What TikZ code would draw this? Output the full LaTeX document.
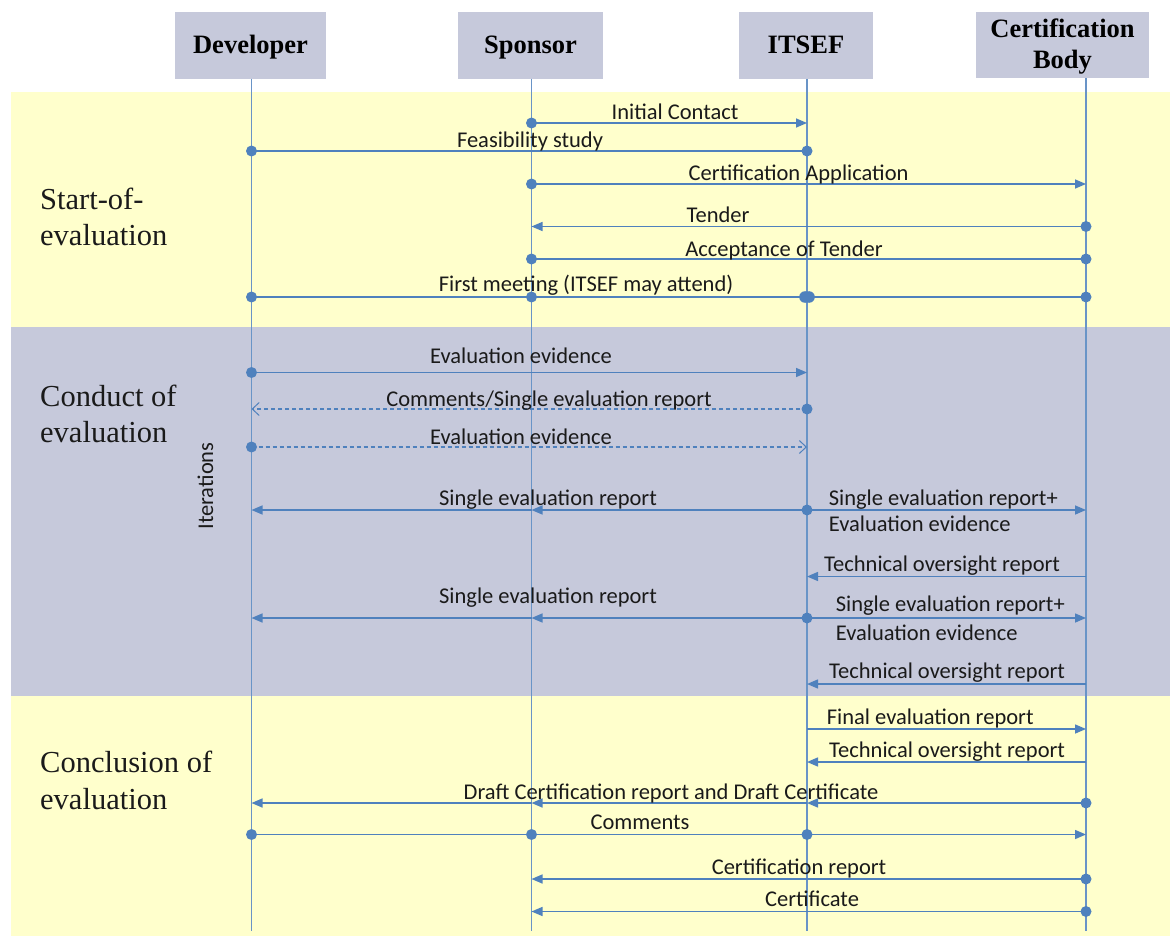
\documentclass[tikz,border=0pt]{standalone}
\usepackage{fontspec}
\setmainfont{Liberation Serif}
\newfontfamily\carlito{Carlito}
\usetikzlibrary{arrows.meta}
\definecolor{bandY}{HTML}{FFFFCC}
\definecolor{bandG}{HTML}{C6C9DB}
\definecolor{lineB}{HTML}{4F81BD}
\definecolor{txt}{HTML}{1A1A1A}
\begin{document}
\begin{tikzpicture}[x=1pt,y=-1pt,
 hdbox/.style={fill=bandG, draw=none, inner sep=0, minimum height=66.5pt},
 hdtext/.style={font=\fontsize{26.5}{31}\selectfont\bfseries, inner sep=0, anchor=base},
 phase/.style={font=\fontsize{30.5}{36}\selectfont, inner sep=0, anchor=base west, text=txt},
 lbl/.style={font=\carlito\fontsize{22.5}{27}\selectfont, inner sep=0, anchor=base, text=txt},
 lblw/.style={lbl, anchor=base west},
 life/.style={draw=lineB!85, line width=1.3pt},
 msg/.style={draw=lineB, line width=1.5pt},
 arr/.style={msg, -{Triangle[length=11pt,width=9pt]}},
 dsh/.style={draw=lineB, line width=1.1pt, dash pattern=on 4pt off 3pt, -{Straight Barb[length=7pt,width=13pt,line width=1pt]}},
 dotc/.style={fill=lineB}
]
\useasboundingbox (0,0) rectangle (1170,936);
% bands
\fill[bandY] (11,92) rectangle (1170,326.5);
\fill[bandG] (11,326.5) rectangle (1170,696);
\fill[bandY] (11,696) rectangle (1170,936);

% headers
\node[hdbox, minimum width=151pt] (dev) at (250.5,45.5) {};
\node[hdbox, minimum width=145pt] (spo) at (530.5,45.5) {};
\node[hdbox, minimum width=134pt] (its) at (806,45.5) {};
\node[hdbox, minimum width=173pt] (cb) at (1062.5,45) {};
\node[hdtext] (devt) at (250.5,54) {Developer};
\node[hdtext] (spot) at (530.5,54) {Sponsor};
\node[hdtext] (itst) at (806,54) {ITSEF};
\node[hdtext] (cbt1) at (1062.5,37.3) {Certification};
\node[hdtext] (cbt2) at (1062.5,68.3) {Body};

% lifelines
\coordinate (Ldev) at (251.5,0);
\coordinate (Lspo) at (531.5,0);
\coordinate (Lits) at (807,0);
\coordinate (Lcb) at (1086,0);
\coordinate (bot) at (0,931);
\draw[life] (dev.south -| Ldev) -- (Ldev |- bot);
\draw[life] (spo.south -| Lspo) -- (Lspo |- bot);
\draw[life] (its.south -| Lits) -- (Lits |- bot);
\draw[life] (cb.south -| Lcb) -- (Lcb |- bot);

% phase labels
\node[phase] (p1a) at (40,209.3) {Start-of-};
\node[phase] (p1b) at (40,245.7) {evaluation};
\node[phase] (p2a) at (40,406) {Conduct of};
\node[phase] (p2b) at (40,442.7) {evaluation};
\node[phase] (p3a) at (40,772.7) {Conclusion of};
\node[phase] (p3b) at (40,809.3) {evaluation};
\node[lbl, rotate=90] (iter) at (213,486) {Iterations};

% rows
\coordinate (r1) at (0,123);
\coordinate (r2) at (0,151);
\coordinate (r3) at (0,184);
\coordinate (r4) at (0,226.5);
\coordinate (r5) at (0,259);
\coordinate (r6) at (0,297);
\coordinate (r7) at (0,372.5);
\coordinate (r8) at (0,409);
\coordinate (r9) at (0,447);
\coordinate (r10) at (0,510);
\coordinate (r11) at (0,576.5);
\coordinate (r12) at (0,618);
\coordinate (r13) at (0,684);
\coordinate (r14) at (0,729);
\coordinate (r15) at (0,762);
\coordinate (r16) at (0,803);
\coordinate (r17) at (0,834.5);
\coordinate (r18) at (0,879);
\coordinate (r19) at (0,911.5);

% messages
\draw[arr] (Lspo |- r1) -- (Lits |- r1);
\draw[msg] (Ldev |- r2) -- (Lits |- r2);
\draw[arr] (Lspo |- r3) -- (Lcb |- r3);
\draw[arr] (Lcb |- r4) -- (Lspo |- r4);
\draw[msg] (Lspo |- r5) -- (Lcb |- r5);
\draw[msg] (Ldev |- r6) -- (Lcb |- r6);
\draw[arr] (Ldev |- r7) -- (Lits |- r7);
\draw[dsh] (Lits |- r8) -- (Ldev |- r8);
\draw[dsh] (Ldev |- r9) -- (Lits |- r9);
\draw[arr] (Lits |- r10) -- (Lspo |- r10);
\draw[arr] (Lspo |- r10) -- (Ldev |- r10);
\draw[arr] (Lits |- r10) -- (Lcb |- r10);
\draw[arr] (Lcb |- r11) -- (Lits |- r11);
\draw[arr] (Lits |- r12) -- (Lspo |- r12);
\draw[arr] (Lspo |- r12) -- (Ldev |- r12);
\draw[arr] (Lits |- r12) -- (Lcb |- r12);
\draw[arr] (Lcb |- r13) -- (Lits |- r13);
\draw[arr] (Lits |- r14) -- (Lcb |- r14);
\draw[arr] (Lcb |- r15) -- (Lits |- r15);
\draw[arr] (Lcb |- r16) -- (Lits |- r16);
\draw[arr] (Lits |- r16) -- (Lspo |- r16);
\draw[arr] (Lspo |- r16) -- (Ldev |- r16);
\draw[arr] (Ldev |- r17) -- (Lcb |- r17);
\draw[arr] (Lcb |- r18) -- (Lspo |- r18);
\draw[arr] (Lcb |- r19) -- (Lspo |- r19);

% dots
\foreach \p in {Lspo|-r1, Ldev|-r2, Lits|-r2, Lspo|-r3, Lcb|-r4, Lspo|-r5, Lcb|-r5,
  Ldev|-r6, Lspo|-r6, Lcb|-r6, Ldev|-r7, Lits|-r8, Ldev|-r9, Lits|-r10, Lits|-r12,
  Lcb|-r16, Ldev|-r17, Lspo|-r17, Lits|-r17, Lcb|-r18, Lcb|-r19}
  \fill[dotc] (\p) circle[radius=5.5];
\fill[dotc] ([xshift=-2pt]Lits |- r6) circle[radius=5.8];
\fill[dotc] ([xshift=2pt]Lits |- r6) circle[radius=5.8];

% message labels
\node[lbl] (t1) at (675,120) {Initial Contact};
\node[lbl] (t2) at (530,147.7) {Feasibility study};
\node[lbl] (t3) at (798.6,181) {Certification Application};
\node[lbl] (t4) at (718,222.7) {Tender};
\node[lbl] (t5) at (784,256) {Acceptance of Tender};
\node[lbl] (t6) at (586,291) {First meeting (ITSEF may attend)};
\node[lbl] (t7) at (521,363) {Evaluation evidence};
\node[lbl] (t8) at (549,406) {Comments/Single evaluation report};
\node[lbl] (t9) at (521,444) {Evaluation evidence};
\node[lbl] (t10) at (548,505.7) {Single evaluation report};
\node[lblw] (t10a) at (828.6,505) {Single evaluation report+};
\node[lblw] (t10b) at (828.6,531.7) {Evaluation evidence};
\node[lblw] (t11) at (824,571.7) {Technical oversight report};
\node[lbl] (t12) at (548,603) {Single evaluation report};
\node[lblw] (t12a) at (835.6,611.7) {Single evaluation report+};
\node[lblw] (t12b) at (835.6,640) {Evaluation evidence};
\node[lblw] (t13) at (829,678) {Technical oversight report};
\node[lblw] (t14) at (826.7,724) {Final evaluation report};
\node[lblw] (t15) at (829,757.3) {Technical oversight report};
\node[lbl] (t16) at (671,799) {Draft Certification report and Draft Certificate};
\node[lbl] (t17) at (640,829.3) {Comments};
\node[lbl] (t18) at (799,874.3) {Certification report};
\node[lbl] (t19) at (812,906.7) {Certificate};
\end{tikzpicture}
\end{document}
